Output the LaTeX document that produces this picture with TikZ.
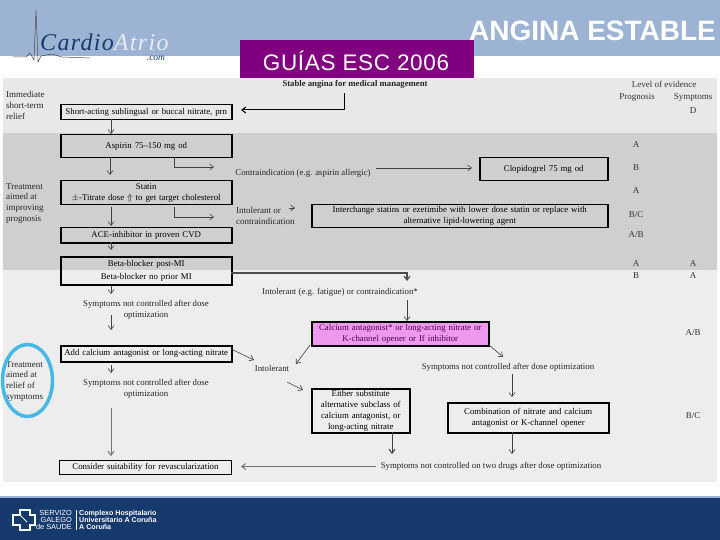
\documentclass[tikz,border=0pt]{standalone}
\usepackage{fontspec}
\setmainfont{Liberation Serif}
\setsansfont{Liberation Sans}
\usetikzlibrary{arrows.meta}
\definecolor{topblue}{HTML}{9DB3D3}
\definecolor{footblue}{HTML}{173A6E}
\definecolor{purp}{HTML}{800080}
\definecolor{vio}{HTML}{EE99EE}
\definecolor{ringc}{HTML}{45B8E6}
\tikzset{
 x=1pt,y=-1pt,
 fc/.style={draw=black,line width=1.5pt,inner sep=0pt,align=center,font=\fontsize{8.8}{10.8}\selectfont,anchor=north west},
 lbl/.style={inner sep=0pt,align=center,font=\fontsize{8.8}{10.8}\selectfont,text=black!85},
 side/.style={inner sep=0pt,align=left,anchor=north west,font=\fontsize{9}{10.8}\selectfont,text=black!85},
 ev/.style={inner sep=0pt,font=\fontsize{9}{10}\selectfont,text=black!80},
 arr/.style={draw=black!75,line width=0.6pt,-{Straight Barb[length=4pt,width=6pt]}},
}
\newcommand{\fcbox}[6]{\node[fc,minimum width=#4-#2,minimum height=#5-#3,text width=#4-#2-3] (#1) at (#2,#3) {#6};}
\begin{document}
\begin{tikzpicture}
\useasboundingbox (0,0) rectangle (720,540);
\fill[white] (0,0) rectangle (720,540);
\fill[topblue] (0,0) rectangle (720,56);
\fill[black!9] (3,78) rectangle (717,133);
\fill[black!19] (3,133) rectangle (717,270);
\fill[black!7] (3,270) rectangle (717,482);
\fill[topblue] (0,496) rectangle (720,498);
\fill[footblue] (0,498) rectangle (720,540);
% logo
\draw[black!70,line width=0.5pt] (13,57) -- (26,57) -- (30,53) -- (34,60) -- (36,10) -- (38,62) -- (41,56) -- (52,54) -- (62,57) -- (90,58);
\node[inner sep=0pt,anchor=west,font=\rmfamily\itshape\fontsize{24}{24}\selectfont\addfontfeatures{LetterSpace=5.5}] (logo) at (40,42.5) {\textcolor{footblue}{Cardio}\textcolor{white!75!topblue}{Atrio}};
\node[inner sep=0pt,font=\rmfamily\itshape\fontsize{9.5}{9.5}\selectfont,text=footblue] (com) at (156,58.5) {.com};
% titles
\fill[purp] (240,40) rectangle (474,78);
\node[inner sep=0pt,font=\sffamily\fontsize{22.5}{23}\selectfont\addfontfeatures{LetterSpace=3},text=white] (t1) at (356,61) {GUÍAS ESC 2006};
\node[inner sep=0pt,font=\sffamily\bfseries\fontsize{28}{28}\selectfont,text=white] (t2) at (592.5,31) {ANGINA ESTABLE};
% headers
\node[lbl,font=\bfseries\fontsize{8.7}{9}\selectfont] (head) at (355,84) {Stable angina for medical management};
\node[ev] (lev) at (664,84) {Level of evidence};
\node[ev] (prog) at (637,97) {Prognosis};
\node[ev] (sym) at (693,97) {Symptoms};
\node[side] (s1) at (6,91.5) {Immediate\\short-term\\relief};
\node[side] (s2) at (6,183) {Treatment\\aimed at\\improving\\prognosis};
\node[side] (s3) at (6,361) {Treatment\\aimed at\\relief of\\symptoms};
\draw[ringc,line width=3.5pt] (27.5,380.5) ellipse [x radius=25,y radius=36];
% evidence
\node[ev] (e1) at (693,111) {D};
\node[ev] (e2) at (636,145) {A};
\node[ev] (e3) at (636,168) {B};
\node[ev] (e4) at (636,191) {A};
\node[ev] (e5) at (636,215) {B/C};
\node[ev] (e6) at (636,235) {A/B};
\node[ev] (e7) at (636,264) {A};
\node[ev] (e8) at (693,264) {A};
\node[ev] (e9) at (636,276) {B};
\node[ev] (e10) at (693,276) {A};
\node[ev] (e11) at (693,333) {A/B};
\node[ev] (e12) at (693,416) {B/C};
% boxes
\fcbox{short}{60}{104}{231}{119}{Short-acting sublingual or buccal nitrate, prn}
\fcbox{asp}{60}{134}{231}{157}{Aspirin 75–150 mg od}
\fcbox{stat}{60}{180}{231}{204}{Statin\\$\pm$-Titrate dose $\Uparrow$ to get target cholesterol}
\fcbox{ace}{60}{227}{231}{242}{ACE-inhibitor in proven CVD}
\fcbox{beta}{60}{256}{231}{284}{Beta-blocker post-MI\\[2.5pt]Beta-blocker no prior MI}
\fcbox{clop}{479}{157}{607}{180}{Clopidogrel 75 mg od}
\fcbox{inter}{311}{204}{607}{227}{Interchange statins or ezetimibe with lower dose statin or replace with\\alternative lipid-lowering agent}
\node[fc,fill=vio,minimum width=177,minimum height=24,text width=174,text=purp!60!black] (calc) at (311,321) {Calcium antagonist* or long-acting nitrate or\\K-channel opener or If inhibitor};
\fcbox{add}{60}{345}{231}{361}{Add calcium antagonist or long-acting nitrate}
\fcbox{either}{311}{388}{409}{432}{Either substitute\\alternative subclass of\\calcium antagonist, or\\long-acting nitrate}
\fcbox{comb}{447}{402}{608}{432}{Combination of nitrate and calcium\\antagonist or K-channel opener}
\node[fc,line width=0.9pt,minimum width=172,minimum height=14,text width=169] (cons) at (59,460) {Consider suitability for revascularization};
% free labels
\node[lbl] (cont) at (303,173.5) {Contraindication (e.g. aspirin allergic)};
\node[side] (into) at (236,207) {Intolerant or\\contraindication};
\node[lbl] (intf) at (340,292) {Intolerant (e.g. fatigue) or contraindication*};
\node[lbl] (sy1) at (146,309.5) {Symptoms not controlled after dose\\optimization};
\node[lbl] (sy2) at (146,389) {Symptoms not controlled after dose\\optimization};
\node[lbl] (intl) at (272,368) {Intolerant};
\node[lbl] (sy3) at (508,367) {Symptoms not controlled after dose optimization};
\node[lbl] (sy4) at (491,466.5) {Symptoms not controlled on two drugs after dose optimization};
% helper points
\coordinate (hs) at (344,93);
\coordinate (hsb) at (344,110);
\coordinate (a1) at (241,110);
\coordinate (asp1) at (174,157);
\coordinate (asp2) at (174,167);
\coordinate (asp3) at (214,167);
\coordinate (st1) at (174,207);
\coordinate (st2) at (174,217);
\coordinate (st3) at (214,217);
\coordinate (cl1) at (376,168);
\coordinate (cl2) at (472,168);
\coordinate (ia) at (289,208);
\coordinate (ib) at (295,208);
\coordinate (bt) at (231,273);
\coordinate (bt2) at (407,273);
\coordinate (bt3) at (407,281);
\coordinate (cz) at (407,300);
\coordinate (iu1) at (231,349);
\coordinate (iu2) at (254,360);
\coordinate (cd1) at (310,345);
\coordinate (cd2) at (296,364);
\coordinate (il1) at (287,382);
\coordinate (il2) at (303,390);
\coordinate (sp1) at (489,345);
\coordinate (sp2) at (503,357);
\coordinate (sy3a) at (512,374);
\coordinate (sy3b) at (512,397);
\coordinate (e1a) at (392,432);
\coordinate (e1b) at (392,454);
\coordinate (c1a) at (512,432);
\coordinate (c1b) at (512,454);
\coordinate (sy4a) at (376,466.5);
\coordinate (sy4b) at (241,466.5);
% connectors
\draw[arr,line width=1pt,black] (hs) -- (hsb) -- (a1);
\draw[arr] (111,119) -- (111,134);
\draw[arr] (110,157) -- (110,175);
\draw[arr] (asp1) -- (asp2) -- (asp3);
\draw[arr] (111,207) -- (111,226);
\draw[arr] (st1) -- (st2) -- (st3);
\draw[arr] (111,242) -- (111,250);
\draw[arr] (cl1) -- (cl2);
\draw[arr] (ia) -- (ib);
\draw[arr,line width=1.1pt,black!70] (bt) -- (bt2) -- (bt3);
\draw[arr] (cz) -- (calc.north west -| cz);
\draw[arr] (111,286) -- (111,294);
\draw[arr] (111,315) -- (111,330);
\draw[arr] (111,365) -- (111,373);
\draw[arr,line width=1pt,black!55] (111,408) -- (111,456);
\draw[arr] (iu1) -- (iu2);
\draw[arr] (cd1) -- (cd2);
\draw[arr] (il1) -- (il2);
\draw[arr] (sp1) -- (sp2);
\draw[arr] (sy3a) -- (sy3b);
\draw[arr,line width=1pt] (e1a) -- (e1b);
\draw[arr] (c1a) -- (c1b);
\draw[arr,line width=1pt,black!55] (sy4a) -- (sy4b);
% footer logo
\draw[white,line width=1.1pt] (20,510) -- (30,510) -- (30,515) -- (35,515) -- (35,525) -- (30,525) -- (30,530) -- (20,530) -- (20,525) -- (13,525) -- (13,515) -- (20,515) -- cycle;
\draw[white,line width=0.9pt] (19,514) -- (27,522);
\node[inner sep=0pt,align=right,anchor=east,text=white,font=\sffamily\fontsize{7.4}{7.4}\selectfont] (sg) at (72,520) {SERVIZO\\GALEGO\\de SAUDE};
\draw[white,line width=0.8pt] (76,510) -- (76,530);
\node[inner sep=0pt,align=left,anchor=west,text=white,font=\sffamily\bfseries\fontsize{7.1}{7.3}\selectfont] (ch) at (79,520) {Complexo Hospitalario\\Universitario A Coruña\\A Coruña};
\end{tikzpicture}
\end{document}
